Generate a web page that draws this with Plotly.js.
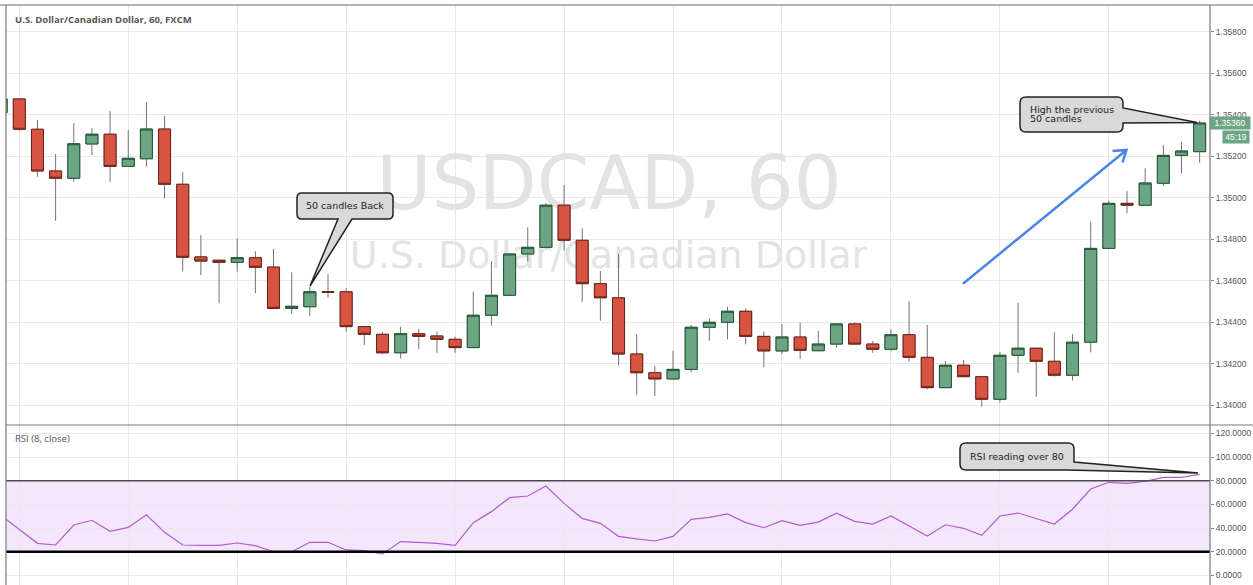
<!DOCTYPE html>
<html><head><meta charset="utf-8">
<script src="https://cdn.plot.ly/plotly-3.0.1.min.js"></script>
<style>html,body{margin:0;padding:0;background:#fff;}#chart{width:1253px;height:585px;}</style>
</head><body><div id="chart"></div>
<script>
// ---- data (USDCAD 60 min, FXCM) ----
const openP = [1.35410,1.35476,1.35330,1.35129,1.35094,1.35259,1.35306,1.35151,1.35188,1.35331,
1.35065,1.34715,1.34699,1.34689,1.34711,1.34666,1.34467,1.34475,1.34547,1.34547,
1.34379,1.34342,1.34253,1.34345,1.34334,1.34318,1.34278,1.34434,1.34530,1.34729,
1.34761,1.34964,1.34795,1.34586,1.34518,1.34247,1.34157,1.34127,1.34173,1.34376,
1.34400,1.34453,1.34332,1.34262,1.34329,1.34263,1.34295,1.34392,1.34295,1.34270,
1.34340,1.34231,1.34085,1.34193,1.34138,1.34029,1.34241,1.34275,1.34212,1.34145,
1.34304,1.34756,1.34973,1.34964,1.35070,1.35204,1.35222];
const highP = [1.35490,1.35478,1.35375,1.35211,1.35359,1.35335,1.35418,1.35326,1.35460,1.35395,
1.35123,1.34820,1.34700,1.34805,1.34743,1.34753,1.34641,1.34571,1.34633,1.34564,
1.34381,1.34353,1.34379,1.34368,1.34355,1.34331,1.34547,1.34695,1.34732,1.34858,
1.34976,1.35061,1.34853,1.34647,1.34729,1.34342,1.34191,1.34263,1.34387,1.34419,
1.34475,1.34467,1.34355,1.34392,1.34398,1.34359,1.34394,1.34400,1.34311,1.34366,
1.34499,1.34387,1.34213,1.34218,1.34140,1.34257,1.34494,1.34277,1.34352,1.34342,
1.34885,1.34986,1.35033,1.35142,1.35254,1.35270,1.35371];
const lowP = [1.35400,1.35323,1.35101,1.34889,1.35077,1.35206,1.35077,1.35148,1.35150,1.34997,
1.34644,1.34628,1.34491,1.34644,1.34540,1.34465,1.34440,1.34430,1.34520,1.34355,
1.34291,1.34247,1.34226,1.34271,1.34253,1.34253,1.34276,1.34384,1.34528,1.34692,
1.34756,1.34745,1.34499,1.34408,1.34191,1.34048,1.34045,1.34125,1.34160,1.34311,
1.34318,1.34294,1.34183,1.34246,1.34223,1.34261,1.34278,1.34293,1.34253,1.34260,
1.34210,1.34077,1.34083,1.34137,1.33993,1.34013,1.34157,1.34041,1.34138,1.34119,
1.34255,1.34754,1.34925,1.34962,1.35058,1.35118,1.35169];
const closeP = [1.35476,1.35330,1.35129,1.35094,1.35260,1.35306,1.35151,1.35190,1.35331,1.35065,
1.34713,1.34695,1.34689,1.34711,1.34665,1.34467,1.34477,1.34547,1.34545,1.34379,
1.34342,1.34253,1.34345,1.34332,1.34318,1.34278,1.34434,1.34530,1.34729,1.34761,
1.34964,1.34795,1.34586,1.34518,1.34247,1.34157,1.34127,1.34173,1.34376,1.34400,
1.34453,1.34332,1.34262,1.34329,1.34265,1.34295,1.34392,1.34295,1.34270,1.34340,
1.34231,1.34085,1.34193,1.34138,1.34029,1.34241,1.34275,1.34212,1.34145,1.34304,
1.34756,1.34973,1.34964,1.35071,1.35204,1.35225,1.35360];
const rsi8 = [50.5,38.4,27.1,25.7,42.6,46.6,37.3,40.6,51.3,36.4,
25.7,25.4,25.4,27.4,25.1,20.0,20.0,28.0,28.0,21.5,
20.9,18.1,28.6,28.0,27.1,25.4,44.6,53.9,65.7,67.1,
75.6,60.9,48.2,44.0,33.0,30.8,29.1,33.0,47.4,49.1,
51.9,44.6,40.3,46.2,42.3,45.0,52.5,45.7,43.4,50.2,
41.7,33.3,42.8,39.8,33.9,50.2,52.7,47.9,43.4,55.9,
73.0,78.7,77.8,79.5,82.9,82.9,85.4];
const rsiBands = [20, 80];
const priceTicks = [1.34000,1.34200,1.34400,1.34600,1.34800,1.35000,1.35200,1.35400,1.35600,1.35800];
const rsiTicks = [0,20,40,60,80,100,120];
const countdown = '45:19';
const symbolTitle = 'U.S. Dollar/Canadian Dollar, 60, FXCM';
const watermark = ['USDCAD, 60', 'U.S. Dollar/Canadian Dollar'];

// ---- geometry ----
const W = 1253, H = 585, ML = 6, MR = 43, MT = 5, MB = 0;
const PW = W - ML - MR, PH = H - MT - MB;
const SPLIT = 425; // pixel row separating panes
const X_RANGE = [0.268, 66.57];
const PRICE_RANGE = [1.339051, 1.359286];
const RSI_RANGE = [-8.1, 127.1];
const idx = openP.map((_, i) => i);
const gridX = idx.filter(i => i % 6 === 1);

const px = x => (x - ML) / PW;
const py = y => (H - MB - y) / PH;
const P = (x, y) => px(x).toFixed(5) + ',' + py(y).toFixed(5);
const pxToIdx = x => X_RANGE[0] + (x - ML) / PW * (X_RANGE[1] - X_RANGE[0]);
const pyToPrice = y => PRICE_RANGE[1] - (y - MT) / (SPLIT - MT) * (PRICE_RANGE[1] - PRICE_RANGE[0]);

const UP = '#6ba583', DN = '#d75442', UPB = '#225437', DNB = '#6e2218', WICK = '#737375';
const GRID = '#e9e9e9';
const bodyHigh = openP.map((o, i) => Math.max(o, closeP[i]));
const bodyLow = openP.map((o, i) => Math.min(o, closeP[i]));

const traces = [
  { type: 'scatter', mode: 'text', x: [pxToIdx(609), pxToIdx(608.5)], y: [pyToPrice(190), pyToPrice(258.5)],
    text: watermark, textposition: 'middle center',
    textfont: { family: 'DejaVu Sans', size: [75, 38], color: '#e3e3e3' },
    hoverinfo: 'skip', showlegend: false, xaxis: 'x', yaxis: 'y' },
  { type: 'candlestick', x: idx, open: openP, high: highP, low: lowP, close: closeP,
    xaxis: 'x3', yaxis: 'y3', whiskerwidth: 0, hoverinfo: 'skip', showlegend: false,
    increasing: { line: { color: WICK, width: 1 }, fillcolor: UP },
    decreasing: { line: { color: WICK, width: 1 }, fillcolor: DN } },
  { type: 'candlestick', x: idx, open: openP, high: bodyHigh, low: bodyLow, close: closeP,
    xaxis: 'x3', yaxis: 'y3', whiskerwidth: 0, hoverinfo: 'skip', showlegend: false,
    increasing: { line: { color: UPB, width: 1 }, fillcolor: UP },
    decreasing: { line: { color: DNB, width: 1 }, fillcolor: DN } },
  { type: 'scatter', mode: 'lines', x: idx, y: rsi8, xaxis: 'x2', yaxis: 'y2',
    line: { color: '#b35bcf', width: 1.2 }, hoverinfo: 'skip', showlegend: false }
];

const dom = (H - MB - SPLIT) / PH;
const tickFont = { family: 'Liberation Sans, Arial', size: 8.5, color: '#555' };
const calloutFont = { family: 'DejaVu Sans', size: 9.5, color: '#222' };

const shapes = [
  // RSI band
  { type: 'rect', xref: 'paper', yref: 'y2', x0: 0, x1: 1, y0: rsiBands[0], y1: rsiBands[1],
    fillcolor: '#f4e7fd', line: { width: 0 }, layer: 'below' },
  { type: 'line', xref: 'paper', yref: 'y2', x0: 0, x1: 1, y0: rsiBands[1], y1: rsiBands[1], line: { color: '#4a4a4a', width: 1.6 } },
  { type: 'line', xref: 'paper', yref: 'y2', x0: 0, x1: 1, y0: rsiBands[0], y1: rsiBands[0], line: { color: '#000', width: 2.6 } },
  // frame
  { type: 'line', xref: 'paper', yref: 'paper', x0: px(0), x1: px(W), y0: py(5), y1: py(5), line: { color: '#9a9a9a', width: 1.5 } },
  { type: 'line', xref: 'paper', yref: 'paper', x0: px(ML), x1: px(W), y0: py(SPLIT), y1: py(SPLIT), line: { color: '#7a7a7a', width: 1.2 } },
  { type: 'line', xref: 'paper', yref: 'paper', x0: px(ML), x1: px(ML), y0: py(5), y1: py(H), line: { color: '#7a7a7a', width: 1.2 } },
  { type: 'line', xref: 'paper', yref: 'paper', x0: px(1210), x1: px(1210), y0: py(5), y1: py(H), line: { color: '#7a7a7a', width: 1.2 } },
  // callout 1
  { type: 'path', xref: 'paper', yref: 'paper', fillcolor: '#d9d9d9', line: { color: '#222', width: 1.5 },
    path: 'M' + P(302,193) + ' L' + P(388,193) + ' Q' + P(393,193) + ' ' + P(393,198) + ' L' + P(393,214) +
      ' Q' + P(393,219) + ' ' + P(388,219) + ' L' + P(352,219) + ' L' + P(310,286) + ' L' + P(338,219) +
      ' L' + P(302,219) + ' Q' + P(297,219) + ' ' + P(297,214) + ' L' + P(297,198) + ' Q' + P(297,193) + ' ' + P(302,193) + ' Z' },
  // callout 2
  { type: 'path', xref: 'paper', yref: 'paper', fillcolor: '#d9d9d9', line: { color: '#222', width: 1.5 },
    path: 'M' + P(1026,97) + ' L' + P(1117,97) + ' Q' + P(1123,97) + ' ' + P(1123,103) + ' L' + P(1123,108) +
      ' L' + P(1197,122.5) + ' L' + P(1123,123) + ' L' + P(1123,126) + ' Q' + P(1123,132) + ' ' + P(1117,132) +
      ' L' + P(1026,132) + ' Q' + P(1020,132) + ' ' + P(1020,126) + ' L' + P(1020,103) + ' Q' + P(1020,97) + ' ' + P(1026,97) + ' Z' },
  // callout 3
  { type: 'path', xref: 'paper', yref: 'paper', fillcolor: '#d9d9d9', line: { color: '#222', width: 1.5 },
    path: 'M' + P(966,443) + ' L' + P(1068,443) + ' Q' + P(1074,443) + ' ' + P(1074,449) + ' L' + P(1074,462) +
      ' L' + P(1198,473) + ' L' + P(1066,470) + ' L' + P(966,470) + ' Q' + P(960,470) + ' ' + P(960,464) +
      ' L' + P(960,449) + ' Q' + P(960,443) + ' ' + P(966,443) + ' Z' },
  // blue arrow
  { type: 'path', xref: 'paper', yref: 'paper', fillcolor: 'rgba(0,0,0,0)', line: { color: '#4a86e8', width: 2.5 },
    path: 'M' + P(963,283.7) + ' L' + P(1126.5,150) + ' M' + P(1112.5,151) + ' L' + P(1126.5,150) + ' L' + P(1122.5,162.5) }
];

const annotations = [
  { xref: 'paper', yref: 'paper', x: px(13), y: py(19), xanchor: 'left', yanchor: 'middle', showarrow: false,
    text: '<b>' + symbolTitle + '</b>', font: { family: 'Open Sans', size: 9.5, color: '#555' } },
  { xref: 'paper', yref: 'paper', x: px(13), y: py(438), xanchor: 'left', yanchor: 'middle', showarrow: false,
    text: 'RSI (8, close)', font: { family: 'Open Sans', size: 9.5, color: '#555' } },
  { xref: 'paper', yref: 'paper', x: px(345), y: py(206), xanchor: 'center', yanchor: 'middle', showarrow: false,
    text: '50 candles Back', font: calloutFont },
  { xref: 'paper', yref: 'paper', x: px(1028), y: py(109.5), xanchor: 'left', yanchor: 'middle', showarrow: false,
    text: 'High the previous', font: calloutFont },
  { xref: 'paper', yref: 'paper', x: px(1028), y: py(118.5), xanchor: 'left', yanchor: 'middle', showarrow: false,
    text: '50 candles', font: calloutFont },
  { xref: 'paper', yref: 'paper', x: px(1017), y: py(456), xanchor: 'center', yanchor: 'middle', showarrow: false,
    text: 'RSI reading over 80', font: calloutFont },
  { xref: 'paper', yref: 'y', x: px(1229.5), y: closeP[closeP.length - 1], xanchor: 'center', yanchor: 'middle', showarrow: false,
    text: closeP[closeP.length - 1].toFixed(5), bgcolor: UP, width: 40, height: 12, borderpad: 0,
    font: { family: 'Liberation Sans, Arial', size: 8.5, color: '#fff' } },
  { xref: 'paper', yref: 'paper', x: px(1235.5), y: py(136.7), xanchor: 'center', yanchor: 'middle', showarrow: false,
    text: countdown, bgcolor: UP, width: 26, height: 12, borderpad: 0,
    font: { family: 'Liberation Sans, Arial', size: 8.5, color: '#fff' } }
];

const layout = {
  width: W, height: H, margin: { l: ML, r: MR, t: MT, b: MB, pad: 0 },
  paper_bgcolor: '#fff', plot_bgcolor: '#fff', showlegend: false,
  boxgap: 0.34, boxgroupgap: 0, boxmode: 'overlay',
  xaxis: { domain: [0, 1], range: X_RANGE, anchor: 'y', tickvals: gridX, showticklabels: false, ticks: '',
    showgrid: true, gridcolor: GRID, zeroline: false, showline: false, rangeslider: { visible: false }, fixedrange: true },
  yaxis: { domain: [dom, 1], range: PRICE_RANGE, anchor: 'x', side: 'right', tickvals: priceTicks, tickformat: '.5f',
    ticks: 'outside', ticklen: 3, tickcolor: '#888', tickfont: tickFont, showgrid: true, gridcolor: GRID,
    zeroline: false, showline: false, fixedrange: true },
  xaxis2: { domain: [0, 1], range: X_RANGE, anchor: 'y2', tickvals: gridX, showticklabels: false, ticks: '',
    showgrid: true, gridcolor: GRID, zeroline: false, showline: false, fixedrange: true },
  yaxis2: { domain: [0, dom], range: RSI_RANGE, anchor: 'x2', side: 'right', tickvals: rsiTicks, tickformat: '.4f',
    ticks: 'outside', ticklen: 3, tickcolor: '#888', tickfont: tickFont, showgrid: true, gridcolor: GRID,
    zeroline: false, showline: false, fixedrange: true },
  xaxis3: { overlaying: 'x', anchor: 'y3', range: X_RANGE, visible: false, rangeslider: { visible: false }, fixedrange: true },
  yaxis3: { overlaying: 'y', anchor: 'x3', range: PRICE_RANGE, visible: false, fixedrange: true },
  shapes: shapes, annotations: annotations
};

Plotly.newPlot('chart', traces, layout, { staticPlot: true, displayModeBar: false });
</script>
</body></html>
